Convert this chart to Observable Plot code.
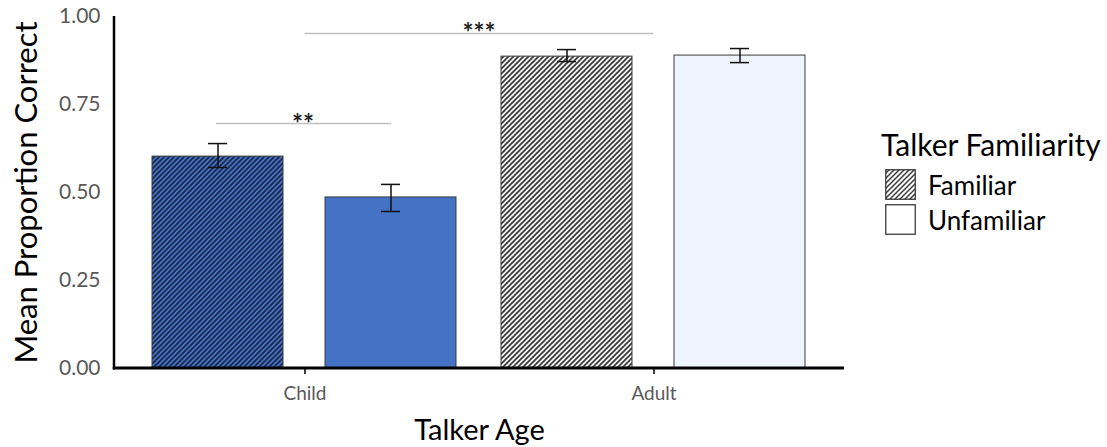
<!DOCTYPE html>
<html><head><meta charset="utf-8">
<script src="https://cdn.jsdelivr.net/npm/d3@7"></script>
<script src="https://cdn.jsdelivr.net/npm/@observablehq/plot@0.6"></script>
<style>
html,body{margin:0;padding:0;background:#fff;}
#wrap{position:relative;width:1107px;height:447px;font-family:Lato,sans-serif;overflow:hidden;}
#legend{position:absolute;left:881px;top:127px;color:#000;}
#legend .title{font-size:30px;line-height:34px;white-space:nowrap;margin-bottom:6px;}
#legend .item{display:flex;align-items:center;height:35px;margin-left:4px;}
#legend .item svg{display:block;margin-right:12px;}
#legend .item span{font-size:26px;line-height:30px;white-space:nowrap;}
</style></head><body><div id="wrap"></div>
<script>
// ---- data ----
const ages = ["Child", "Adult"];
const familiarity = ["Familiar", "Unfamiliar"];
const barAge = ["Child", "Child", "Adult", "Adult"];
const barFam = ["Familiar", "Unfamiliar", "Familiar", "Unfamiliar"];
const meanCorrect = [0.602, 0.486, 0.886, 0.889];
const errLow = [0.571, 0.446, 0.872, 0.869];
const errHigh = [0.639, 0.523, 0.906, 0.909];
const yTicks = [0, 0.25, 0.5, 0.75, 1];
// significance brackets: within-Child (Familiar vs Unfamiliar), and Child vs Adult
const sigLabels = ["**", "***"];
const sigY = [0.696, 0.95];

// ---- styles ----
const barFill = {
  "Child Familiar": "url(#hatch-blue)",
  "Child Unfamiliar": "#4472C4",
  "Adult Familiar": "url(#hatch-gray)",
  "Adult Unfamiliar": "#EEF4FD"
};
const legendFill = {"Familiar": "url(#hatch-legend)", "Unfamiliar": "#ffffff"};

const data = barAge.map((a, i) => ({age: a, fam: barFam[i], mean: meanCorrect[i], lo: errLow[i], hi: errHigh[i]}));
const within = [{age: "Child", from: familiarity[0], to: familiarity[1], y: sigY[0], label: sigLabels[0]}];

const plot = Plot.plot({
  width: 1107,
  height: 447,
  marginLeft: 114,
  marginRight: 263,
  marginTop: 16,
  marginBottom: 79,
  style: {fontFamily: "Lato, sans-serif", background: "white", overflow: "visible"},
  fx: {domain: ages, paddingInner: 0, paddingOuter: 0.0457},
  x: {domain: familiarity, paddingInner: 0.24, paddingOuter: 0.125, axis: null},
  y: {domain: [0, 1]},
  color: {type: "identity"},
  marks: [
    Plot.barY(data, {fx: "age", x: "fam", y: "mean", fill: d => barFill[d.age + " " + d.fam], stroke: "#3a3a3a", strokeWidth: 1}),
    Plot.ruleX(data, {fx: "age", x: "fam", y1: "lo", y2: "hi", stroke: "#111", strokeWidth: 1.5}),
    Plot.tickY(data, {fx: "age", x: "fam", y: "lo", insetLeft: 56, insetRight: 56, stroke: "#111", strokeWidth: 1.5}),
    Plot.tickY(data, {fx: "age", x: "fam", y: "hi", insetLeft: 56, insetRight: 56, stroke: "#111", strokeWidth: 1.5}),
    Plot.ruleY(within, {fx: "age", x1: "from", x2: "to", y: "y", insetLeft: 64, insetRight: 65, stroke: "#c0c0c0", strokeWidth: 1.5}),
    Plot.text(within, {fx: "age", y: "y", text: "label", lineAnchor: "middle", dy: 1, dx: -2, fontSize: 26, fontWeight: "bold", fill: "#222"}),
    Plot.axisY({ticks: yTicks, tickFormat: d3.format(".2f"), tickSize: 0, tickPadding: 30, fontSize: 21, fill: "#595959", label: null}),
    Plot.axisY({ticks: [], label: "Mean Proportion Correct", labelArrow: "none", labelAnchor: "center", labelOffset: 116, fontSize: 31, fill: "#000"}),
    Plot.axisFx({anchor: "bottom", tickSize: 6, tickPadding: 12, fontSize: 19, stroke: "#000", fill: "#595959", strokeWidth: 1.5, label: null}),
    Plot.axisFx({anchor: "bottom", ticks: [], label: "Talker Age", labelArrow: "none", labelAnchor: "center", labelOffset: 71, fontSize: 29, fill: "#000"})
  ]
});

const svg = d3.select(plot);
const defs = svg.insert("defs", ":first-child");
function hatch(sel, id, bg, fg, sw) {
  const p = sel.append("pattern").attr("id", id).attr("patternUnits", "userSpaceOnUse").attr("width", 5).attr("height", 5);
  p.append("rect").attr("width", 5).attr("height", 5).attr("fill", bg);
  p.append("path").attr("d", "M-1,1 L1,-1 M0,5 L5,0 M4,6 L6,4").attr("stroke", fg).attr("stroke-width", sw);
}
hatch(defs, "hatch-blue", "#4472C4", "#1b2a4c", 1.8);
hatch(defs, "hatch-gray", "#f2f2f2", "#363636", 1.6);

const fxS = plot.scale("fx"), yS = plot.scale("y");
const [xa, xb] = fxS.range;
const y0 = yS.apply(0), y1 = yS.apply(1);
const center = a => fxS.apply(a) + fxS.bandwidth / 2;

// axis lines
svg.append("line").attr("x1", xa).attr("x2", xa).attr("y1", y1).attr("y2", y0 + 1.5).attr("stroke", "#000").attr("stroke-width", 2.5);
svg.append("line").attr("x1", xa - 1.2).attr("x2", xb).attr("y1", y0).attr("y2", y0).attr("stroke", "#000").attr("stroke-width", 3);

// Child vs Adult bracket
const ys = yS.apply(sigY[1]);
svg.append("line").attr("x1", center(ages[0])).attr("x2", center(ages[1])).attr("y1", ys).attr("y2", ys).attr("stroke", "#c0c0c0").attr("stroke-width", 1.5);
svg.append("text").attr("x", (center(ages[0]) + center(ages[1])) / 2).attr("y", ys).attr("dy", "0.32em").attr("text-anchor", "middle")
  .attr("font-size", 26).attr("font-weight", "bold").attr("fill", "#222").attr("font-family", "Lato, sans-serif").text(sigLabels[1]);

const wrap = d3.select("#wrap");
wrap.node().appendChild(plot);

// legend
const legend = wrap.append("div").attr("id", "legend");
legend.append("div").attr("class", "title").text("Talker Familiarity");
const items = legend.selectAll(".item").data(familiarity).join("div").attr("class", "item");
items.each(function(f, i) {
  const s = d3.select(this).append("svg").attr("width", 31).attr("height", 31);
  if (i === 0) hatch(s.append("defs"), "hatch-legend", "#ffffff", "#3c3c3c", 1.5);
  s.append("rect").attr("x", 0.75).attr("y", 0.75).attr("width", 29.5).attr("height", 29.5)
    .attr("fill", legendFill[f]).attr("stroke", "#3a3a3a").attr("stroke-width", 1.3);
  d3.select(this).append("span").text(f);
});
</script></body></html>
